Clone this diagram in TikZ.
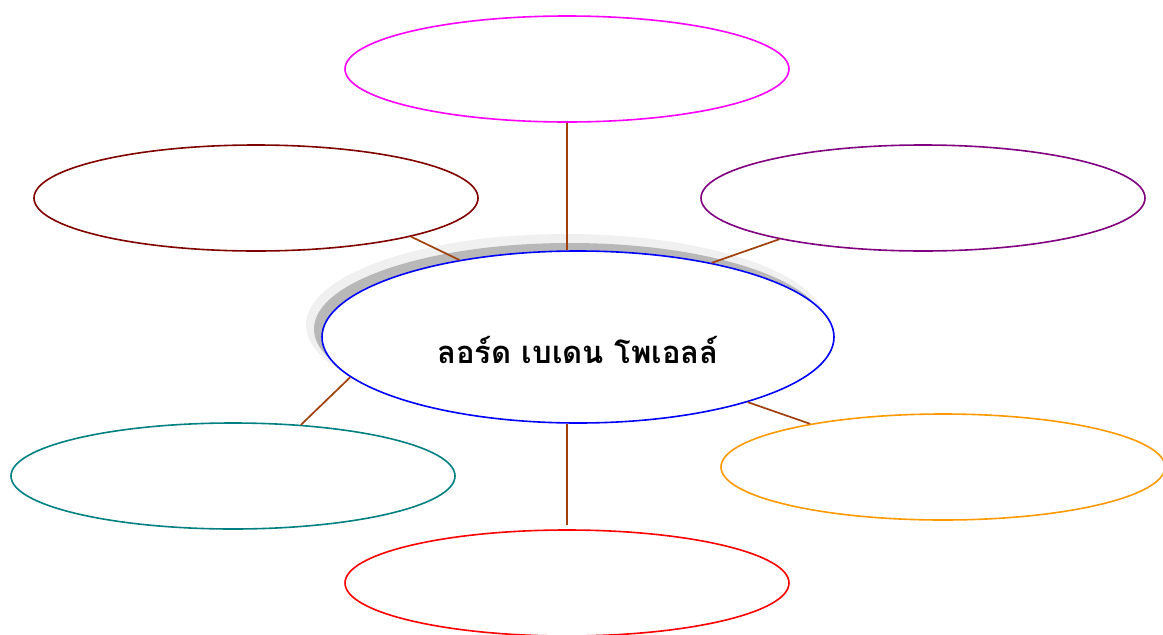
\documentclass[tikz,border=0pt]{standalone}
\usepackage{fontspec}
\newfontfamily\thaifont[Script=Thai]{Loma}
\usetikzlibrary{shapes.geometric}
\definecolor{linkbrown}{HTML}{A0410D}
\definecolor{cmag}{HTML}{FF00FF}
\definecolor{cdred}{HTML}{800000}
\definecolor{cpurp}{HTML}{800080}
\definecolor{cteal}{HTML}{008080}
\definecolor{corange}{HTML}{FF9900}
\definecolor{cred}{HTML}{FF0000}
\definecolor{cblue}{HTML}{0000FF}
\begin{document}
\begin{tikzpicture}[x=1pt,y=-1pt,
  bubble/.style={ellipse,draw,line width=1.6pt,minimum width=444pt,minimum height=106pt,inner sep=0pt},
  link/.style={draw=linkbrown,line width=1.7pt}]
\useasboundingbox (0,0) rectangle (1163,635);
% shadow of the central ellipse
\fill[black!6] (566,325) ellipse [x radius=260pt, y radius=91pt];
\fill[black!28] (570,329) ellipse [x radius=256pt, y radius=86pt];
\node[bubble,draw=cblue,fill=white,minimum width=512pt,minimum height=172pt] (cen) at (578,337) {};
\node (lbl) at (578,350) {\thaifont\bfseries\fontsize{31}{36}\selectfont ลอร์ด เบเดน โพเอลล์};
\node[bubble,draw=cmag] (top) at (567,69) {};
\node[bubble,draw=cdred] (lft) at (256,198) {};
\node[bubble,draw=cpurp] (rgt) at (923,198) {};
\node[bubble,draw=cteal] (blft) at (233,476) {};
\node[bubble,draw=corange] (brgt) at (943,467) {};
\node[bubble,draw=cred] (bot) at (567,583) {};
\draw[link] (top.south) -- (top.south |- cen.north);
\draw[link] (lft.-14.8) -- (cen.147.9);
\draw[link] (rgt.196.2) -- (cen.29.6);
\draw[link] (blft.37) -- (cen.190.8);
\draw[link] (brgt.162.7) -- (cen.-21.9);
\draw[link] (bot.north |- cen.south) -- ([yshift=4pt]bot.north);
\end{tikzpicture}
\end{document}
